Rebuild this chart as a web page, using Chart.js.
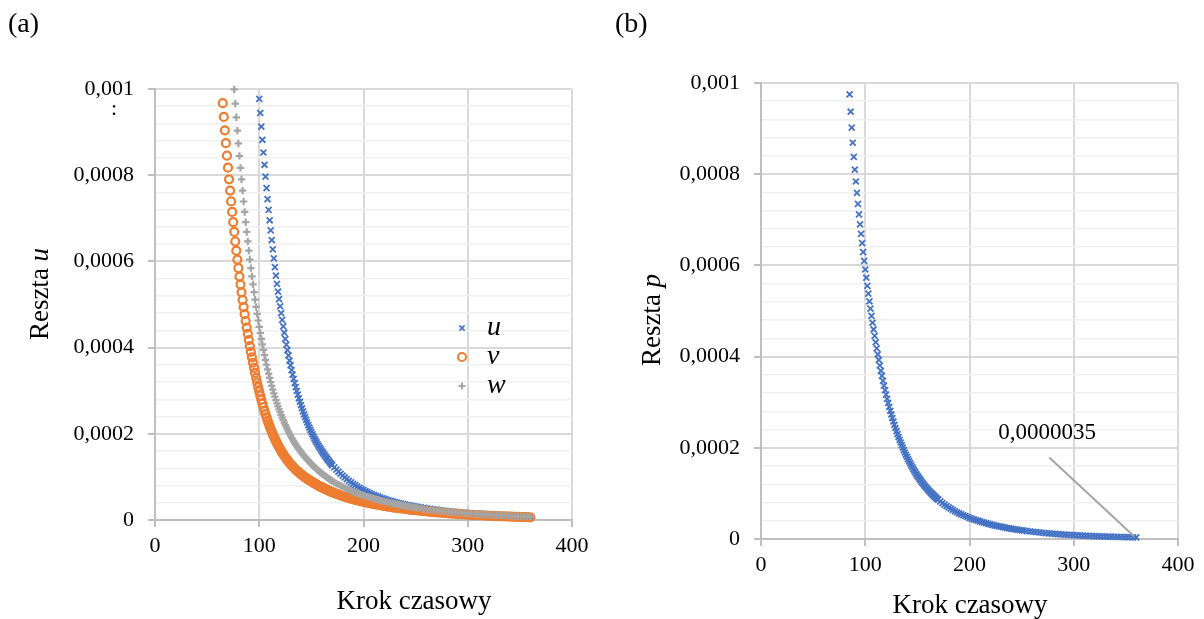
<!DOCTYPE html>
<html>
<head>
<meta charset="utf-8">
<script src="https://cdn.jsdelivr.net/npm/chart.js@4.4.0/dist/chart.umd.min.js"></script>
<style>
html, body { margin: 0; padding: 0; background: #fff; }
#wrap { position: relative; width: 1204px; height: 619px; }
canvas { position: absolute; top: 0; }
#chartA { left: 0; }
#chartB { left: 600px; }
</style>
</head>
<body>
<div id="wrap">
  <canvas id="chartA" width="600" height="619"></canvas>
  <canvas id="chartB" width="604" height="619"></canvas>
</div>
<script>
// time steps (every step at first, then every 2nd and every 3rd step)
const steps = [
  65,66,67,68,69,70,71,72,73,74,75,76,77,78,79,80,81,82,83,84,85,86,87,88,89,90,
  91,92,93,94,95,96,97,98,99,100,101,102,103,104,105,106,107,108,109,110,111,112,
  113,114,115,116,117,118,119,120,121,122,123,124,125,126,127,128,129,130,131,132,
  133,134,135,136,137,138,139,140,141,142,143,144,145,146,147,148,149,150,151,152,
  153,154,155,156,157,158,159,160,161,162,163,164,165,166,167,168,169,170,
  172,174,176,178,180,182,184,186,188,190,192,194,196,198,200,202,204,206,208,210,
  212,214,216,218,220,222,224,226,228,230,232,234,236,238,240,242,244,246,248,250,
  252,255,258,261,264,267,270,273,276,279,282,285,288,291,294,297,300,303,306,309,
  312,315,318,321,324,327,330,333,336,339,342,345,348,351,354,357,360
]

// residuals, in units of 1e-6
const uStart = 100
const uValues = [
  977,944.3,912.7,882.2,852.7,824.2,796.7,770.1,744.3,719.4,695.4,672.1,649.6,627.9,
  606.9,586.6,567.0,548.0,529.7,512.5,495.9,479.8,464.2,449.1,434.5,420.4,406.8,
  394.0,381.8,370.0,358.7,347.8,337.3,327.3,317.6,308.3,299.3,290.7,282.4,274.4,266.7,
  259.3,252.2,245.3,238.7,232.3,226.2,220.3,214.6,209.1,203.8,198.7,193.8,189.0,184.4,
  180.0,175.7,171.6,167.6,
  163.7,159.9,156.3,152.7,149.3,145.9,142.6,139.4,136.3,133.3,130.4,127.5,
  122.0,116.8,111.9,107.3,102.8,98.7,94.7,90.9,87.4,84.0,80.7,77.7,74.8,72.0,69.4,
  66.9,64.5,62.2,60.0,57.9,55.9,54.1,52.2,50.5,48.9,47.3,45.8,44.4,43.0,41.7,40.4,
  39.2,38.0,36.9,35.9,34.8,33.9,32.9,32.0,31.2,
  30.3,29.1,28.0,26.9,25.8,24.8,23.9,22.9,22.0,21.2,20.4,19.6,18.8,18.1,17.4,16.8,
  16.1,15.5,15.0,14.4,13.9,13.4,12.9,12.4,11.9,11.5,11.1,10.7,10.3,9.9,9.6,9.2,8.9,
  8.6,8.3,8.0,7.7
]
const vStart = 65
const vValues = [
  967,935.1,904.2,874.3,845.4,817.5,790.5,764.4,739.1,714.7,691.1,668.3,646.2,624.8,
  604.2,584.2,564.9,546.2,528.2,510.7,493.8,477.5,461.7,446.5,431.7,417.4,403.6,390.3,
  377.4,364.9,352.9,341.2,329.9,319.0,308.5,298.3,
  288.5,279.1,270.2,261.6,253.4,245.6,238.1,230.9,224.0,217.4,211.1,205.0,199.2,193.6,
  188.3,183.2,178.3,173.6,169.1,164.8,160.6,156.6,152.8,149.1,145.6,142.2,138.9,135.8,
  132.8,129.9,127.1,124.4,121.8,119.3,116.9,114.6,112.4,110.3,108.3,106.3,
  104.4,102.6,100.8,99.0,97.3,95.6,94.0,92.4,90.8,89.3,87.8,86.3,84.9,83.5,82.1,80.7,
  79.4,78.1,76.8,75.6,74.4,73.2,72.0,70.9,69.8,68.7,67.6,66.6,65.5,64.5,
  62.5,60.7,58.9,57.1,55.5,53.9,52.4,50.9,49.5,48.1,46.8,45.6,44.3,43.2,42.1,
  41.0,40.0,39.0,38.0,37.0,36.1,35.2,34.3,33.4,32.6,31.8,31.0,30.3,29.5,28.8,28.1,
  27.4,26.8,26.1,25.5,24.9,24.3,23.7,23.1,22.6,
  22.1,21.3,20.5,19.7,19.0,18.4,17.7,17.1,16.5,15.9,15.3,14.8,14.3,13.8,13.3,12.8,
  12.4,11.9,11.5,11.1,10.8,10.4,10.0,9.7,9.4,9.0,8.7,8.5,8.2,7.9,7.6,7.4,7.1,6.9,
  6.7,6.5,6.2
]
const wStart = 76
const wValues = [
  999,966.1,934.3,903.5,873.7,844.9,817.1,790.2,764.2,739.0,714.7,691.1,668.3,646.3,
  625.0,604.4,584.5,565.2,546.6,528.6,511.2,
  494.4,478.3,462.9,448.1,433.9,420.3,407.3,394.8,382.8,371.3,360.2,349.6,339.4,329.6,
  320.2,311.1,302.4,294.0,286.0,278.2,270.8,263.6,256.7,250.1,243.7,237.5,231.6,225.9,
  220.4,215.1,210.0,205.1,200.3,195.7,191.3,187.0,182.9,178.9,175.1,171.4,167.8,164.4,
  161.1,157.9,
  154.8,151.8,148.8,145.9,143.1,140.3,137.6,135.0,132.4,129.9,127.5,125.1,122.8,120.5,
  118.3,116.1,114.0,111.9,109.9,107.9,106.0,104.1,102.3,100.5,98.8,97.1,95.4,93.8,
  92.2,90.6,
  87.6,84.7,82.0,79.3,76.8,74.4,72.1,69.9,67.8,65.8,63.9,62.0,60.2,58.5,56.9,
  55.3,53.8,52.4,50.9,49.5,48.2,46.9,45.6,44.4,43.2,42.0,40.9,39.8,38.8,37.7,36.7,
  35.8,34.8,33.9,33.0,32.2,31.3,30.5,29.7,29.0,
  28.2,27.1,26.1,25.1,24.2,23.3,22.4,21.6,20.8,20.0,19.2,18.5,17.9,17.2,16.6,16.0,
  15.4,14.9,14.3,13.8,13.3,12.9,12.4,12.0,11.6,11.2,10.8,10.4,10.1,9.7,9.4,9.1,8.8,
  8.5,8.2,8.0,7.7
]
const pStart = 85
const pValues = [
  975,937,902,869,838,810,784,759,735,712,690,669,649,629,610,591,573,555,538,
  521.3,505.1,489.4,474.2,459.5,445.3,431.5,418.1,405.1,
  392.6,380.5,368.9,357.7,346.9,336.5,326.4,316.7,307.3,298.3,289.6,281.2,273.1,265.3,
  257.7,250.4,243.4,236.6,230.0,223.6,217.5,211.6,205.8,200.3,194.9,189.7,184.7,179.9,
  175.2,170.7,166.3,162.0,157.9,153.9,150.0,146.2,142.5,139.0,135.5,132.2,128.9,125.8,
  122.7,119.7,116.8,114.0,111.3,108.7,106.1,103.6,101.2,98.9,96.6,94.4,92.3,90.2,
  88.2,86.2,
  82.4,78.8,75.5,72.3,69.3,66.4,63.7,61.1,58.7,56.4,54.2,52.1,50.1,48.3,46.5,
  44.8,43.2,41.6,40.1,38.7,37.3,35.9,34.7,33.4,32.3,31.1,30.0,29.0,28.0,27.0,26.1,
  25.2,24.3,23.5,22.7,21.9,21.1,20.4,19.7,19.1,
  18.4,17.5,16.7,15.9,15.1,14.4,13.7,13.0,12.4,11.8,11.3,10.8,10.3,9.8,9.3,8.9,8.5,
  8.1,7.8,7.4,7.1,6.8,6.5,6.2,5.9,5.7,5.4,5.2,5.0,4.8,4.6,4.4,4.2,4.0,3.8,3.65,3.5
]
const UNIT = 1e-6

const legendLabels = ["u", "v", "w"]
const lastPLabel = "0,0000035"

const SERIF = '"Liberation Serif", "Times New Roman", serif'
const BLUE = "#4472c4"
const ORANGE = "#ed7d31"
const GRAY = "#a5a5a5"

function toPoints(start, values) {
  const first = steps.indexOf(start)
  return values.map((v, i) => ({ x: steps[first + i], y: v * UNIT }))
}

function fmtY(v) {
  return parseFloat(v.toFixed(5)).toString().replace(".", ",")
}

function makeScales(yWidth, xHeight) {
  return {
    x: {
      type: "linear", min: 0, max: 400,
      afterFit: (s) => { s.height = xHeight },
      ticks: { stepSize: 100, color: "#000", font: { family: SERIF, size: 22 }, padding: 6 },
      grid: { color: "#d9d9d9", lineWidth: 2, tickLength: 7, tickColor: "#bfbfbf", tickWidth: 2 },
      border: { color: "#bfbfbf", width: 2 }
    },
    y: {
      type: "linear", min: 0, max: 0.001,
      afterFit: (s) => { s.width = yWidth },
      ticks: {
        stepSize: 0.00004, autoSkip: false, color: "#000",
        font: { family: SERIF, size: 22 }, padding: 14,
        callback: (v, i) => (i % 5 === 0 ? fmtY(v) : "")
      },
      grid: {
        color: (c) => (c.index % 5 === 0 ? "#d9d9d9" : "#efefef"),
        lineWidth: (c) => (c.index % 5 === 0 ? 2 : 1.5),
        tickLength: 7,
        tickColor: (c) => (c.index % 5 === 0 ? "#bfbfbf" : "rgba(0,0,0,0)"),
        tickWidth: 2
      },
      border: { color: "#bfbfbf", width: 2 }
    }
  }
}

function drawText(ctx, text, x, y, size, align, italic) {
  ctx.save()
  ctx.font = (italic ? "italic " : "") + size + "px " + SERIF
  ctx.fillStyle = "#000"
  ctx.textAlign = align || "left"
  ctx.textBaseline = "alphabetic"
  ctx.fillText(text, x, y)
  ctx.restore()
}

// vertical axis title: regular word + italic symbol, rotated
function drawYTitle(ctx, word, sym, x, y, size) {
  ctx.save()
  ctx.translate(x, y)
  ctx.rotate(-Math.PI / 2)
  ctx.fillStyle = "#000"
  ctx.textBaseline = "alphabetic"
  ctx.font = size + "px " + SERIF
  const w1 = ctx.measureText(word).width
  ctx.font = "italic " + size + "px " + SERIF
  const w2 = ctx.measureText(sym).width
  const x0 = -(w1 + w2) / 2
  ctx.font = size + "px " + SERIF
  ctx.fillText(word, x0, 0)
  ctx.font = "italic " + size + "px " + SERIF
  ctx.fillText(sym, x0 + w1, 0)
  ctx.restore()
}

function drawMark(ctx, kind, x, y, color) {
  ctx.save()
  ctx.strokeStyle = color
  ctx.beginPath()
  if (kind === "crossRot") {
    ctx.lineWidth = 1.6
    const r = 2.6
    ctx.moveTo(x - r, y - r); ctx.lineTo(x + r, y + r)
    ctx.moveTo(x - r, y + r); ctx.lineTo(x + r, y - r)
  } else if (kind === "circle") {
    ctx.lineWidth = 2
    ctx.arc(x, y, 4, 0, Math.PI * 2)
  } else {
    ctx.lineWidth = 2
    const r = 3.5
    ctx.moveTo(x - r, y); ctx.lineTo(x + r, y)
    ctx.moveTo(x, y - r); ctx.lineTo(x, y + r)
  }
  ctx.stroke()
  ctx.restore()
}

const decorA = {
  id: "decorA",
  afterDraw(chart) {
    const ctx = chart.ctx
    drawText(ctx, "(a)", 8, 32, 28)
    drawText(ctx, ":", 114, 115, 22, "center")
    drawYTitle(ctx, "Reszta ", "u", 48, 294, 27)
    drawText(ctx, "Krok czasowy", 414, 609, 27, "center")
    const marks = ["crossRot", "circle", "cross"]
    const colors = [BLUE, ORANGE, GRAY]
    legendLabels.forEach((lab, i) => {
      const y = 328 + i * 29
      drawMark(ctx, marks[i], 462, y, colors[i])
      drawText(ctx, lab, 487, y + 7, 28, "left", true)
    })
  }
}

const decorB = {
  id: "decorB",
  afterDraw(chart) {
    const ctx = chart.ctx
    drawText(ctx, "(b)", 15, 32, 28)
    drawYTitle(ctx, "Reszta ", "p", 60, 320, 27)
    drawText(ctx, "Krok czasowy", 370, 613, 27, "center")
    // label for the last point
    const px = chart.scales.x.getPixelForValue(steps[steps.length - 1])
    const py = chart.scales.y.getPixelForValue(pValues[pValues.length - 1] * UNIT)
    ctx.save()
    ctx.strokeStyle = GRAY
    ctx.lineWidth = 2
    ctx.beginPath()
    ctx.moveTo(px - 87, py - 80)
    ctx.lineTo(px - 2, py - 1)
    ctx.stroke()
    ctx.restore()
    drawText(ctx, lastPLabel, px - 138, py - 98, 23)
  }
}

const common = {
  responsive: false,
  animation: false,
  events: [],
  plugins: { legend: { display: false }, tooltip: { enabled: false } }
}

new Chart(document.getElementById("chartA"), {
  type: "scatter",
  data: {
    datasets: [
      { label: "u", data: toPoints(uStart, uValues), order: 3, clip: false,
        pointStyle: "crossRot", pointRadius: 4.2, borderColor: BLUE, borderWidth: 1.8, backgroundColor: "rgba(0,0,0,0)" },
      { label: "v", data: toPoints(vStart, vValues), order: 2, clip: false,
        pointStyle: "circle", pointRadius: 4, borderColor: ORANGE, borderWidth: 2.2, backgroundColor: "rgba(0,0,0,0)" },
      { label: "w", data: toPoints(wStart, wValues), order: 1, clip: false,
        pointStyle: "cross", pointRadius: 3.7, borderColor: GRAY, borderWidth: 2.2, backgroundColor: "rgba(0,0,0,0)" }
    ]
  },
  options: Object.assign({}, common, {
    layout: { padding: { left: 0, top: 89, right: 28, bottom: 0 } },
    scales: makeScales(155, 99)
  }),
  plugins: [decorA]
})

new Chart(document.getElementById("chartB"), {
  type: "scatter",
  data: {
    datasets: [
      { label: "p", data: toPoints(pStart, pValues), clip: false,
        pointStyle: "crossRot", pointRadius: 4.2, borderColor: BLUE, borderWidth: 1.8, backgroundColor: "rgba(0,0,0,0)" }
    ]
  },
  options: Object.assign({}, common, {
    layout: { padding: { left: 0, top: 83, right: 26, bottom: 0 } },
    scales: makeScales(161, 80)
  }),
  plugins: [decorB]
})
</script>
</body>
</html>
